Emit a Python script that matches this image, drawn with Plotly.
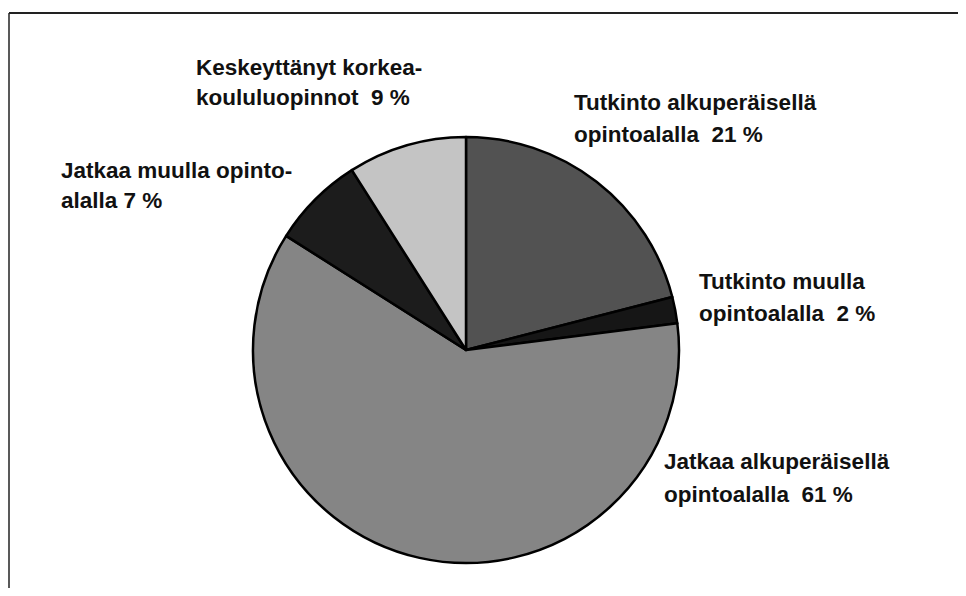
import plotly.graph_objects as go

# ---- data ----
categories = [
    "Tutkinto alkuperäisellä opintoalalla",
    "Tutkinto muulla opintoalalla",
    "Jatkaa alkuperäisellä opintoalalla",
    "Jatkaa muulla opintoalalla",
    "Keskeyttänyt korkeakouluopinnot",
]
values = [21, 2, 61, 7, 9]
label_line1 = [
    "Tutkinto alkuperäisellä",
    "Tutkinto muulla",
    "Jatkaa alkuperäisellä",
    "Jatkaa muulla opinto-",
    "Keskeyttänyt korkea-",
]
label_line2 = [
    "opintoalalla\u00a0\u00a0{} %",
    "opintoalalla\u00a0\u00a0{} %",
    "opintoalalla\u00a0\u00a0{} %",
    "alalla {} %",
    "koululuopinnot\u00a0\u00a0{} %",
]

# ---- styling / layout ----
colors = ["#525252", "#161616", "#858585", "#1c1c1c", "#c4c4c4"]
# label anchor positions in page pixels (left x, first-line centre y, second-line centre y)
label_pos = [
    (572, 102, 134),
    (697, 281, 313),
    (662, 461, 494),
    (59, 170, 200),
    (194, 67, 98),
]

OFF = 8  # default body margin of the html page
W, H = 966 - 2 * OFF, 596 - 2 * OFF  # keep the figure inside the window (no scrollbars)


def px(x):
    return (x - OFF) / W


def py(y):
    return 1 - (y - OFF) / H


cx, cy, r = 466, 350, 213

fig = go.Figure()
fig.add_trace(go.Pie(
    labels=categories,
    values=values,
    sort=False,
    direction="clockwise",
    rotation=0,
    textinfo="none",
    hoverinfo="label+percent",
    showlegend=False,
    marker=dict(colors=colors, line=dict(color="#000000", width=2.5)),
    domain=dict(x=[px(cx - r), px(cx + r)], y=[py(cy + r), py(cy - r)]),
))

font = dict(family="Liberation Sans, Arial, sans-serif", size=22.5, color="#111111")
anns = []
for l1, l2, v, (x, y1, y2) in zip(label_line1, label_line2, values, label_pos):
    for txt, yy in ((l1, y1), (l2.format(v), y2)):
        anns.append(dict(
            text="<b>" + txt + "</b>", x=px(x), y=py(yy),
            xref="paper", yref="paper",
            xanchor="left", yanchor="middle", showarrow=False, font=font,
        ))

top_y = py(13)
left_x = px(9)
shapes = [
    dict(type="line", xref="paper", yref="paper", x0=left_x, x1=1, y0=top_y, y1=top_y,
         line=dict(color="#222222", width=2)),
    dict(type="line", xref="paper", yref="paper", x0=left_x, x1=left_x, y0=top_y, y1=0,
         line=dict(color="#222222", width=1.5)),
]

fig.update_layout(
    width=W, height=H,
    margin=dict(l=0, r=0, t=0, b=0),
    paper_bgcolor="white", plot_bgcolor="white",
    annotations=anns, shapes=shapes,
)
fig.write_html("out.html")
